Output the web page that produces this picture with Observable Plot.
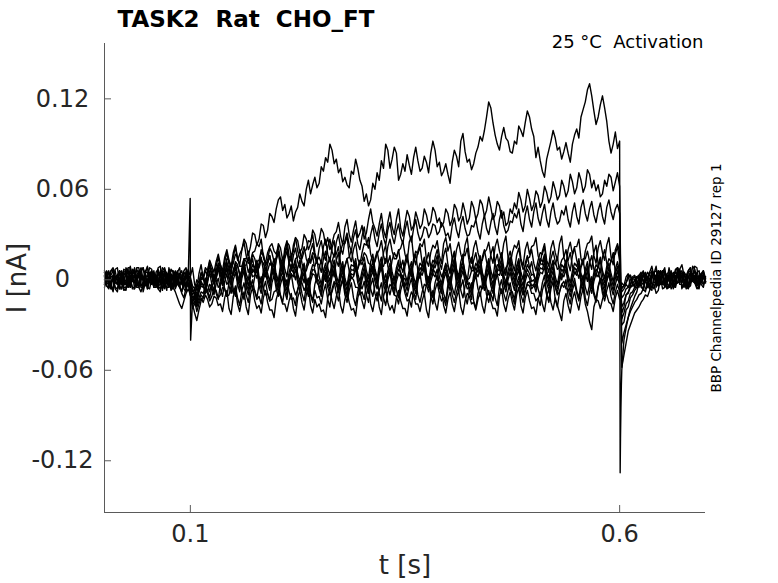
<!DOCTYPE html>
<html>
<head>
<meta charset="utf-8">
<script src="https://cdn.jsdelivr.net/npm/d3@7"></script>
<script src="https://cdn.jsdelivr.net/npm/@observablehq/plot@0.6"></script>
<style>
  html, body { margin: 0; padding: 0; background: #fff; }
  svg text { white-space: pre; }
</style>
</head>
<body>
<div id="chart"></div>
<script>
// ---- data: current in pA (0.001 nA), one sample every dt seconds from t = 0 ----
const dt = 0.0025;
const titleText = "TASK2  Rat  CHO_FT";
const conditionText = "25 °C  Activation";
const sourceText = "BBP Channelpedia ID 29127 rep 1";
const xLabel = "t [s]";
const yLabel = "I [nA]";
const xTicks = [0.1, 0.6];
const yTicks = [-0.12, -0.06, 0, 0.06, 0.12];
const xDomain = [0, 0.7];
const yDomain = [-0.1543, 0.1567];

const sweepA = [5,-2,-3,6,8,1,0,-6,-6,4,3,-4,9,2,-2,7,4,-5,-5,3,2,8,7,-4,-3,5,0,-7,8,3,-5,2,3,-6,-2,4,6,-1,1,7,
  2,8,-3,-7,4,10,1,-4,6,12,3,-2,9,15,7,1,12,18,10,4,
  15,22,13,17,20,27,24,16,22,31,30,23,27,37,36,28,33,44,42,38,
  47,53,55,46,50,41,44,49,39,45,48,57,52,49,60,66,57,63,68,61,
  64,75,72,81,78,90,86,77,80,71,74,65,68,63,61,72,70,80,74,66,
  62,52,57,49,53,64,60,71,66,79,74,90,86,74,80,88,84,66,70,77,
  72,83,76,70,81,88,79,72,74,82,78,71,84,92,86,75,78,69,72,77,
  70,64,78,86,82,75,92,97,85,78,80,73,77,84,88,95,92,99,108,118,
  114,104,96,90,86,95,101,94,92,85,84,92,90,102,99,95,104,112,108,100,
  95,81,88,79,72,68,80,86,92,99,94,86,88,80,85,91,84,78,90,96,
  100,94,108,113,118,126,130,122,112,103,108,116,122,114,105,92,84,90,98,87,
  92,
  -60,-40,-32,-25,-19,-15,-11,-8,-2,-3,-7,3,1,-6,5,4,9,-2,0,6,-3,-1,8,2,-5,-4,6,3,-2,5,3,-3,-2,9,7,0,-4,4,6,-1];
const sweepB = [-3,4,6,-2,2,-6,-8,1,4,-3,0,7,-5,2,8,-1,3,-4,-2,6,-6,1,5,-4,0,8,9,-2,-3,4,2,-7,-5,3,6,-3,-2,5,3,-4,
  -6,-14,-12,-8,-3,4,2,-4,-2,6,5,-1,1,9,7,0,3,11,8,1,
  4,12,10,3,6,14,12,5,9,17,14,8,11,20,17,10,13,21,18,12,
  15,24,21,13,17,25,23,16,19,28,26,18,21,30,27,20,24,33,30,22,
  26,34,31,23,28,20,24,30,32,38,29,23,35,40,30,25,33,39,28,31,
  36,27,31,40,47,38,34,29,37,44,33,28,38,45,35,30,40,47,34,29,
  38,46,42,33,36,45,40,34,37,47,43,36,39,48,45,38,41,35,38,47,
  44,36,40,50,47,39,42,51,45,37,41,52,48,40,44,53,50,42,46,55,
  48,40,43,52,49,41,45,36,38,47,44,51,47,58,53,45,49,60,54,46,
  50,59,56,48,52,62,58,51,55,65,60,53,56,66,62,55,59,70,65,57,
  61,71,66,58,62,73,70,61,66,59,63,55,57,66,62,70,68,59,65,71,
  62,
  -58,-50,-42,-34,-30,-26,-22,-20,-18,-15,-13,-10,-11,-7,-4,-3,-9,-7,1,2,-5,-3,4,5,-4,-2,7,6,2,0,-6,-5,4,3,9,8,-3,-2,3,2];
const sweepC = [2,-4,-5,3,6,-1,-2,5,3,-6,-7,2,0,4,5,-3,-3,7,8,-1,-2,4,3,-5,-5,1,2,8,6,-2,-3,4,0,-5,5,2,0,-6,-8,3,
  -10,-19,-16,-12,-8,-1,-4,-9,0,5,-3,-7,3,8,0,-4,5,9,1,-2,
  6,10,2,-2,7,12,4,0,9,14,5,1,10,15,6,2,11,16,8,4,
  13,18,9,5,14,19,11,7,16,21,12,8,17,22,14,10,19,24,15,11,
  21,26,17,13,22,27,19,15,25,30,21,17,26,31,23,19,28,33,24,20,
  29,35,25,21,30,36,27,22,31,37,28,23,33,38,29,24,32,37,28,24,
  33,39,30,25,34,40,31,26,29,35,34,28,31,37,36,30,32,38,35,29,
  31,26,36,41,33,28,37,42,34,29,30,36,35,40,32,27,37,43,34,30,
  38,44,35,30,40,46,36,31,33,39,38,44,41,47,37,32,43,49,40,35,
  45,51,41,36,44,50,40,35,45,51,42,37,39,46,43,49,40,35,45,51,
  42,37,48,53,44,39,47,52,43,38,46,51,42,37,48,53,45,40,47,50,
  44,
  -42,-35,-30,-25,-21,-18,-15,-13,-10,-9,-6,-8,-2,-5,-7,2,0,6,5,-2,-4,3,3,-3,-2,7,8,1,2,-4,-3,5,6,1,0,-5,-6,3,3,-1];
const sweepD = [3,-4,-6,2,2,7,8,-2,-3,4,5,-5,-2,7,6,-3,-5,1,0,5,9,-1,-3,4,2,-6,-8,1,5,-2,0,6,6,-1,-2,4,3,-3,-5,2,
  2,-4,-6,0,-2,5,2,8,6,13,9,5,12,17,10,6,15,20,13,9,
  18,23,14,10,20,25,16,11,12,18,19,24,22,27,15,11,18,22,24,19,
  17,22,13,9,21,26,16,12,23,28,19,14,14,19,20,26,25,30,18,13,
  15,11,22,27,17,12,21,26,13,9,19,24,24,29,16,12,20,25,14,10,
  18,24,23,28,17,12,12,17,20,26,16,11,22,27,19,14,14,19,21,26,
  17,12,25,29,15,10,19,24,22,27,13,9,18,23,21,26,16,11,24,28,
  19,24,14,10,20,25,17,12,23,28,15,11,21,26,18,13,13,18,20,25,
  16,11,22,27,19,14,24,29,15,10,18,23,21,26,14,9,20,25,17,22,
  23,28,16,11,19,24,13,9,21,26,18,13,24,29,15,10,20,25,17,22,
  22,27,14,10,19,24,25,29,16,11,21,26,18,13,23,28,15,10,20,24,
  18,
  -22,-18,-10,-8,-4,1,2,-3,-5,3,6,-1,0,5,9,2,3,-4,-3,5,8,-1,2,6,-6,-1,5,7,10,3,0,-4,-2,3,6,0,3,-3,-5,2];
const sweepE = [-2,3,5,-4,-8,2,3,-3,0,7,6,-2,-5,1,2,8,8,-4,-3,4,-6,-1,3,5,0,-3,5,6,-2,-7,8,2,-5,-1,2,4,-3,-5,6,3,
  0,-6,-10,-3,-5,2,0,6,3,9,7,2,5,11,10,4,8,14,13,7,
  11,17,15,9,9,14,14,19,10,5,7,12,13,18,16,10,11,16,8,3,
  14,19,10,6,17,22,12,7,9,14,15,20,11,6,6,11,13,18,16,11,
  10,5,14,19,8,3,12,17,17,22,11,6,9,14,15,20,12,7,7,12,
  13,18,16,11,10,5,14,19,11,6,18,23,9,4,13,18,15,20,10,5,
  12,17,8,3,14,19,17,22,11,6,13,18,9,4,15,20,12,7,16,21,
  10,5,14,19,7,2,12,17,16,21,11,6,13,18,9,4,15,20,12,7,
  17,22,10,5,13,18,8,3,14,19,11,6,16,21,12,7,9,14,15,20,
  11,6,13,18,17,22,10,5,14,19,12,7,8,13,15,20,11,6,16,21,
  13,8,9,14,14,19,12,7,18,23,10,5,15,20,11,6,13,18,17,22,
  12,
  -30,-28,-20,-18,-12,-10,-7,-5,-4,2,0,-6,-5,1,3,5,-2,-4,6,3,0,-5,-3,2,5,-1,2,7,-6,-2,3,6,8,-1,-2,3,0,4,5,-2];
const sweepF = [6,2,0,-5,-5,2,3,6,-2,-4,8,5,2,-6,-6,1,5,8,0,-3,-3,4,6,1,-2,-6,3,5,-5,-1,2,7,5,-2,-3,2,0,6,8,1,
  -2,-8,-6,-12,-4,0,2,-3,5,9,2,-2,6,10,3,-2,8,12,5,1,
  5,10,9,4,4,9,10,15,7,2,3,8,8,13,11,6,6,11,9,4,
  4,-1,10,15,7,2,12,17,5,0,8,13,3,-2,9,14,11,16,6,1,
  8,13,4,-1,10,15,7,2,13,18,5,0,9,14,6,1,2,7,8,13,
  10,15,6,1,12,17,7,2,4,9,9,14,11,16,5,0,8,13,3,-2,
  9,14,7,2,12,17,6,1,10,15,4,-1,8,13,11,16,7,2,5,10,
  9,4,13,18,6,1,8,13,4,-1,10,15,7,2,11,16,5,0,9,14,
  6,1,12,17,8,3,3,8,10,15,7,2,9,14,5,0,11,16,8,3,
  4,-1,9,14,12,17,6,1,8,13,10,15,5,0,7,12,13,18,9,4,
  6,1,8,13,4,-1,11,16,7,2,10,15,6,1,9,14,12,17,5,0,
  8,
  -26,-22,-16,-14,-9,-8,-5,-5,-2,0,3,-1,-5,-3,2,5,6,1,-3,-2,0,4,5,2,-2,-5,8,5,2,0,-5,-3,3,4,0,5,6,-1,-3,1];
const sweepG = [-5,0,2,6,6,-2,-3,5,0,-7,-6,1,5,3,2,-2,-2,5,8,3,-5,-6,0,3,3,-4,-3,5,6,-1,2,-5,-6,2,5,8,-1,-4,5,2,
  -4,-10,-8,-14,-6,-3,-3,-8,0,4,3,-2,1,6,5,0,2,7,1,-4,
  6,11,3,-2,7,12,1,-4,5,10,8,13,2,-3,6,11,4,-1,9,14,
  3,-2,7,12,1,-4,5,10,8,13,4,-1,6,11,0,-5,5,10,9,14,
  2,-3,6,11,4,-1,8,13,3,-2,7,12,1,-4,5,10,9,14,4,-1,
  6,11,2,-3,7,12,5,0,10,15,3,-2,6,11,1,-4,5,10,8,13,
  4,-1,7,12,2,-3,6,11,9,14,3,-2,5,10,8,13,2,-3,6,11,
  4,-1,9,14,3,-2,7,12,5,0,1,6,6,11,8,13,4,-1,7,12,
  2,-3,5,10,9,14,3,-2,6,11,4,-1,8,13,1,-4,5,10,7,12,
  3,-2,6,11,10,15,4,-1,7,12,2,-3,5,10,8,13,3,-2,6,11,
  9,14,4,-1,7,12,2,-3,5,10,8,13,3,-2,6,11,4,-1,7,12,
  5,
  -18,-15,-10,-9,-5,-4,-3,2,0,-2,5,3,-2,-4,3,5,-5,-1,2,4,6,-2,0,3,-3,-5,5,3,2,-1,-2,6,8,0,3,-3,-5,2,2,-2];
const sweepH = [2,5,-3,-6,3,2,0,-4,-6,1,3,8,8,-1,-2,3,-5,-8,-3,5,5,-1,-3,2,0,-4,6,4,-2,-5,-5,2,3,5,2,-4,-8,-1,-3,2,
  -6,-14,-10,-17,-8,-4,-5,1,-3,-8,-2,3,0,-5,-3,4,2,-3,-1,5,
  3,8,0,-5,4,9,-2,-7,2,7,5,10,-1,-6,3,8,1,-4,6,11,
  0,-5,4,9,-2,-7,2,7,5,10,1,-4,3,8,-3,-8,2,7,6,1,
  -1,-6,3,8,1,-4,5,10,0,-5,4,9,-2,-7,2,7,6,11,1,-4,
  3,8,-1,-6,4,9,2,-3,7,12,0,-5,3,8,-2,-7,2,7,5,0,
  1,-4,4,9,-1,-6,3,8,6,11,0,-5,2,7,5,0,-1,-6,3,8,
  1,-4,6,11,0,-5,4,9,2,-3,-2,-7,3,8,5,10,1,-4,4,9,
  -1,-6,2,7,6,11,0,-5,3,8,1,-4,5,10,-2,-7,2,7,4,-1,
  0,-5,3,8,7,12,1,-4,4,9,-1,-6,2,7,5,10,0,-5,3,8,
  6,11,1,-4,4,9,-1,-6,2,7,5,0,0,-5,3,8,1,-4,4,9,
  2,
  -12,-10,-6,-5,-3,1,0,2,3,-2,-3,4,2,-1,6,3,-2,0,5,2,0,-6,-5,1,3,6,8,-1,-2,3,2,-4,0,4,5,-1,-3,2,6,1];
const sweepI = [-3,2,5,-2,0,-5,-6,1,2,5,6,0,-2,2,3,-5,-5,1,0,5,8,2,-3,1,2,-4,-6,-2,3,4,0,-3,-5,-8,-12,-16,-19,-14,-9,-6,
  -10,-16,-22,-27,-20,-14,-12,-6,-8,-3,-5,-10,-3,1,-6,-11,-1,4,-4,-9,
  0,5,-3,-8,1,6,-5,-10,-1,-6,2,7,-4,-9,0,5,-2,-7,3,8,
  -3,-8,1,6,-5,-10,-1,4,2,7,-2,-7,0,5,-6,-11,-1,4,3,-2,
  -4,-9,0,5,-2,-7,2,7,-3,-8,1,6,-5,-10,-1,4,3,8,-2,-7,
  0,5,-4,-9,1,6,-1,-6,4,9,-3,-8,0,5,-5,-10,-1,4,2,-3,
  -2,-7,1,6,-4,-9,0,5,3,8,-3,-8,-1,4,2,7,-4,-9,0,5,
  -2,-7,3,8,-3,-8,1,6,-1,-6,-5,-10,0,5,2,7,-2,-7,1,6,
  -4,-9,-1,4,3,8,-3,-8,0,5,-2,-7,2,7,-5,-10,-1,4,1,-4,
  -3,-8,0,5,4,9,-2,-7,1,6,-4,-9,-1,4,2,7,-3,-8,0,5,
  3,8,-2,-7,1,6,-4,-9,-1,4,2,7,-3,-8,0,5,-2,-7,1,6,
  -1,
  -8,-6,-3,-5,0,2,3,-1,-3,2,2,5,0,-4,-5,1,3,6,-2,-3,5,2,0,-6,-3,3,2,6,4,-1,-3,1,5,3,-2,-6,-5,2,3,0];
const sweepJ = [5,1,-2,-6,-6,2,3,-3,0,-5,-5,2,2,6,6,-2,-3,5,-8,-2,0,5,3,-3,-2,4,5,-2,-6,-1,2,-4,-3,3,0,-5,-8,-2,-5,-2,
  -6,-12,-10,-16,-12,-8,-9,-4,-7,-12,-5,-1,-9,-13,-3,1,-6,-11,-2,2,
  -6,-11,-2,3,-8,-13,-4,1,-1,-6,-7,-12,-3,2,-5,-10,-9,-14,-2,3,
  -6,-11,-3,2,-8,-13,-1,4,-5,-10,-7,-2,-2,-7,-4,1,-9,-14,-3,2,
  -6,-11,-1,4,-5,-10,-8,-3,-2,-7,-4,1,-7,-12,-3,2,0,-5,-5,-10,
  -8,-13,-2,3,-6,-11,-4,1,-9,-14,-1,4,-5,-10,-3,2,-7,-12,-2,3,
  -6,-11,-4,1,-8,-13,-1,4,-5,-10,-3,2,-7,-12,-2,3,-6,-1,-9,-14,
  -3,2,-5,-10,-1,4,-7,-12,-4,1,-8,-13,-2,3,-6,-11,-3,2,-5,-10,
  -9,-14,-1,4,-4,-9,-6,-1,-2,-7,-8,-13,-3,2,-5,-10,-7,-2,-1,-6,
  -4,1,-6,-11,-2,3,-9,-14,-3,2,-5,-10,-8,-3,-1,-6,-6,-11,-4,1,
  -7,-12,-2,3,-5,-10,-3,2,-8,-13,-4,1,-6,-11,-1,4,-5,-10,-3,2,
  -4,
  -5,-4,-2,1,3,-3,-4,2,1,-5,-6,0,1,5,4,-2,-1,3,2,-6,-5,0,1,2,3,-3,-2,5,6,0,-1,-5,-4,3,2,-2,-3,2,1,-1];
const sweepK = [0,4,-5,-3,3,6,-2,-6,6,1,-3,-5,2,5,-6,-1,5,3,0,-4,-3,1,2,6,-5,-2,3,-2,0,5,-2,-6,5,2,-3,-5,2,4,-6,-2,
  -8,-15,-12,-18,-14,-10,-12,-7,-9,-14,-11,-6,-7,-12,-10,-5,-6,-11,-10,-4,
  -9,-4,-12,-17,-7,-2,-10,-15,-5,0,-8,-13,-11,-16,-6,-1,-9,-14,-13,-8,
  -7,-2,-10,-15,-5,0,-8,-13,-12,-17,-6,-1,-9,-14,-4,1,-10,-15,-7,-12,
  -11,-16,-8,-3,-13,-18,-6,-1,-9,-14,-5,0,-10,-15,-7,-2,-12,-17,-8,-3,
  -6,-1,-10,-15,-4,1,-9,-14,-7,-2,-12,-17,-8,-3,-5,-10,-11,-16,-7,-2,
  -9,-14,-13,-18,-6,-1,-10,-15,-8,-3,-4,1,-11,-16,-7,-2,-9,-14,-12,-17,
  -6,-1,-10,-15,-8,-3,-5,0,-11,-16,-7,-2,-14,-19,-9,-4,-6,-1,-10,-15,
  -8,-3,-12,-17,-5,0,-9,-14,-7,-2,-11,-16,-6,-1,-10,-15,-8,-3,-4,-9,
  -9,-14,-12,-17,-7,-2,-10,-15,-6,-1,-13,-18,-8,-3,-5,0,-11,-16,-7,-2,
  -9,-14,-6,-1,-12,-17,-8,-3,-10,-15,-5,0,-9,-14,-7,-2,-11,-16,-8,-3,
  -8,
  -2,-4,2,4,-5,-3,0,-4,3,5,-2,1,5,3,-3,-6,0,2,6,4,-2,-5,-5,1,2,5,3,-3,-3,-5,0,2,5,1,-2,-4,2,4,-3,-1];
const sweepL = [3,6,-2,-4,-6,-1,2,6,5,-3,-3,2,0,-5,-5,3,6,2,2,-3,-3,4,0,-5,5,7,-2,-6,-3,2,5,-2,3,6,0,-4,-9,-12,-5,-3,
  -10,-17,-14,-21,-16,-12,-15,-10,-13,-18,-16,-11,-12,-17,-16,-21,-12,-7,-19,-23,
  -11,-6,-16,-21,-13,-8,-18,-23,-10,-5,-14,-19,-17,-22,-12,-7,-15,-20,-20,-25,
  -13,-8,-11,-16,-16,-21,-14,-9,-19,-24,-12,-7,-15,-20,-10,-5,-17,-22,-13,-18,
  -16,-21,-20,-25,-12,-7,-14,-19,-11,-6,-17,-22,-13,-8,-15,-20,-19,-24,-12,-7,
  -14,-19,-10,-5,-16,-21,-13,-8,-18,-23,-11,-6,-15,-20,-17,-22,-12,-7,-14,-19,
  -19,-24,-13,-8,-11,-16,-16,-21,-14,-9,-20,-25,-12,-7,-15,-20,-10,-5,-17,-22,
  -13,-8,-16,-21,-12,-7,-18,-23,-14,-9,-11,-16,-15,-20,-13,-8,-17,-22,-12,-7,
  -14,-19,-19,-24,-11,-6,-16,-21,-13,-8,-15,-20,-10,-5,-17,-22,-12,-7,-14,-19,
  -18,-23,-13,-8,-16,-21,-11,-6,-15,-20,-12,-17,-22,-27,-14,-9,-17,-22,-13,-8,
  -15,-20,-11,-6,-16,-21,-28,-33,-18,-13,-14,-19,-13,-8,-10,-15,-16,-21,-12,-7,
  -13,
  -6,-4,-2,3,3,-2,-5,-3,0,4,5,-1,-3,-6,2,5,-3,1,0,6,5,-2,-5,-4,3,2,-2,-1,2,5,-3,-6,0,3,2,-2,0,3,3,-1];

// fast transients: capacitive artefact at pulse onset (in sweep H), tail spike at pulse end (in sweep A)
const capT = [0.0998, 0.1003];
const capI = [54, -40];
const tailT = [0.6006, 0.601, 0.6015, 0.602];
const tailI = [-128, -105, -85, -70];

const sweeps = [sweepA, sweepB, sweepC, sweepD, sweepE, sweepF, sweepG, sweepH, sweepI, sweepJ, sweepK, sweepL];

// ---- build table ----
const rows = [];
sweeps.forEach((s, k) => {
  const pts = s.map((v, i) => ({sweep: k, t: +(i * dt).toFixed(5), I: v / 1000}));
  if (s === sweepA) tailT.forEach((t, j) => pts.push({sweep: k, t, I: tailI[j] / 1000}));
  if (s === sweepH) capT.forEach((t, j) => pts.push({sweep: k, t, I: capI[j] / 1000}));
  pts.sort((a, b) => a.t - b.t);
  rows.push(...pts.filter(p => p.t <= xDomain[1] + 1e-9));
});

const ink = "#262626";
const axisGray = "#5a5a5a";

const chart = Plot.plot({
  width: 778,
  height: 583,
  marginLeft: 104,
  marginRight: 73,
  marginTop: 43,
  marginBottom: 71,
  style: {fontFamily: "DejaVu Sans", background: "#fff", overflow: "visible"},
  x: {domain: xDomain, axis: null},
  y: {domain: yDomain, axis: null},
  marks: [
    Plot.line(rows, {x: "t", y: "I", z: "sweep", stroke: "#000", strokeWidth: 1.4, strokeLinejoin: "round", curve: "linear"}),
    // axis spines (left & bottom)
    Plot.ruleX([xDomain[0]], {stroke: axisGray, strokeWidth: 1}),
    Plot.ruleY([yDomain[0]], {stroke: axisGray, strokeWidth: 1}),
    // inward ticks
    Plot.axisY(yTicks, {anchor: "left", tickSize: -7, stroke: axisGray, tickFormat: () => "", label: null}),
    Plot.axisX(xTicks, {anchor: "bottom", tickSize: -7, stroke: axisGray, tickFormat: () => "", label: null}),
    // tick labels
    Plot.text(yTicks, {y: d => d, text: d => String(d), frameAnchor: "left", dx: -42, textAnchor: "middle", lineAnchor: "middle", fontSize: 24, fill: ink}),
    Plot.text(xTicks, {x: d => d, text: d => String(d), frameAnchor: "bottom", dy: 22, textAnchor: "middle", lineAnchor: "middle", fontSize: 24, fill: ink}),
    // axis labels
    Plot.text([yLabel], {text: d => d, frameAnchor: "left", dx: -87, rotate: -90, textAnchor: "middle", lineAnchor: "middle", fontSize: 26, fill: ink}),
    Plot.text([xLabel], {text: d => d, frameAnchor: "bottom", dy: 61, textAnchor: "middle", lineAnchor: "bottom", fontSize: 26, fill: ink}),
    // title and annotations
    Plot.text([titleText], {text: d => d, frameAnchor: "top-left", dx: 13, dy: -17, textAnchor: "start", lineAnchor: "bottom", fontSize: 23, fontWeight: "bold", fill: "#000"}),
    Plot.text([conditionText], {text: d => d, frameAnchor: "top-right", dx: -2, dy: 4, textAnchor: "end", lineAnchor: "bottom", fontSize: 18, fill: "#000"}),
    Plot.text([sourceText], {text: d => d, frameAnchor: "right", dx: 11, rotate: -90, textAnchor: "middle", lineAnchor: "middle", fontSize: 13.5, fill: "#000"})
  ]
});
document.getElementById("chart").appendChild(chart);
</script>
</body>
</html>
